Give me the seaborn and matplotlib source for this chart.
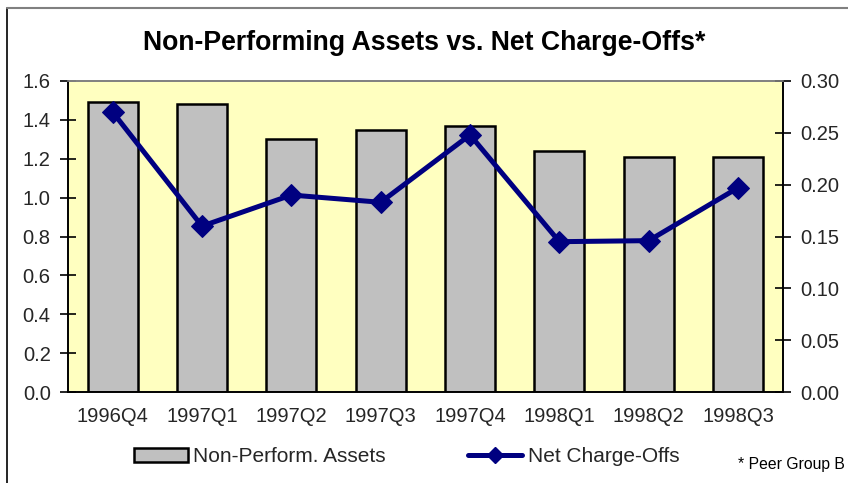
import matplotlib
matplotlib.use("Agg")
import matplotlib.pyplot as plt
from matplotlib.lines import Line2D
from matplotlib.patches import Patch
import seaborn as sns
import pandas as pd
import numpy as np

quarters = ["1996Q4", "1997Q1", "1997Q2", "1997Q3", "1997Q4", "1998Q1", "1998Q2", "1998Q3"]
non_perform_assets = [1.49, 1.48, 1.30, 1.35, 1.37, 1.24, 1.21, 1.21]
net_charge_offs = [0.270, 0.160, 0.190, 0.183, 0.248, 0.145, 0.146, 0.197]
left_ticks = [0.0, 0.2, 0.4, 0.6, 0.8, 1.0, 1.2, 1.4, 1.6]
right_ticks = [0.00, 0.05, 0.10, 0.15, 0.20, 0.25, 0.30]

sns.set_theme(style="white")
plt.rcParams['font.family'] = ['Liberation Sans', 'DejaVu Sans']

df = pd.DataFrame({"quarter": quarters, "npa": non_perform_assets, "nco": net_charge_offs})

W, H = 848, 483
fig = plt.figure(figsize=(W / 100, H / 100), dpi=100)
fig.patch.set_facecolor("white")
ax = fig.add_axes([68 / W, 1 - 392 / H, (782.7 - 68) / W, (392 - 81) / H])
ax.set_facecolor("#FFFFC0")

sns.barplot(data=df, x="quarter", y="npa", ax=ax, color="#C0C0C0", width=0.56,
            edgecolor="black", linewidth=1.8, saturation=1, zorder=2)
ax.set_xlim(-0.5, len(quarters) - 0.5)
ax.set_ylim(0, 1.6)
ax.set_yticks(left_ticks)
ax.set_yticklabels([f"{v:.1f}" for v in left_ticks])
ax.set_xticks(np.arange(len(quarters) + 1) - 0.5, minor=False)
ax.set_xticklabels([])
ax.set_xticks(np.arange(len(quarters)), minor=True)
ax.set_xticklabels(quarters, minor=True)
ax.set_xlabel("")
ax.set_ylabel("")

ax2 = ax.twinx()
sns.lineplot(x=np.arange(len(quarters)), y=df["nco"].values, ax=ax2, color="#000080",
             linewidth=3.6, marker="D", markersize=11, markeredgecolor="#000080", zorder=3)
ax2.set_ylim(0, 0.30)
ax2.set_yticks(right_ticks)
ax2.set_yticklabels([f"{v:.2f}" for v in right_ticks])
ax2.set_xlim(-0.5, len(quarters) - 0.5)
ax2.set_ylabel("")

for a in (ax, ax2):
    for s in a.spines.values():
        s.set_linewidth(1.2)
        s.set_color("black")
    a.spines["top"].set_color("#808080")
    a.tick_params(axis="y", direction="inout", length=12, width=1.2, color="black",
                  labelsize=14.5, pad=6.5)
ax.tick_params(axis="x", which="major", direction="inout", length=10, width=1.0, color="black")
ax.tick_params(axis="x", which="minor", length=0, labelsize=14.5, pad=10.5)
ax.tick_params(axis="y", left=True, right=False)
ax2.tick_params(axis="y", right=True, left=False)
ax2.grid(False)
ax.grid(False)

fig.text(0.5, 1 - 43 / H, "Non-Performing Assets vs. Net Charge-Offs*", ha="center", va="center",
         fontsize=19.2, fontweight="bold", color="black")

handles = [Patch(facecolor="#C0C0C0", edgecolor="black", linewidth=1.8),
           Line2D([], [], color="#000080", linewidth=3.6, marker="D", markersize=8)]
fig.legend(handles, ["Non-Perform. Assets", "Net Charge-Offs"], loc="center left",
           bbox_to_anchor=(134 / W, 1 - 457 / H), ncol=2, frameon=False, fontsize=15,
           handlelength=2.6, handleheight=0.65, handletextpad=0.25, columnspacing=3.95,
           borderaxespad=0, borderpad=0)

fig.text(738 / W, 1 - 465 / H, "* Peer Group B", ha="left", va="center", fontsize=11.3, color="black")

fig.add_artist(Line2D([7 / W, 7 / W], [0, 1 - 8 / H], color="black", linewidth=1.2, transform=fig.transFigure))
fig.add_artist(Line2D([7 / W, 1], [1 - 8 / H, 1 - 8 / H], color="#808080", linewidth=1.5, transform=fig.transFigure))

fig.savefig("out.png", dpi=100)
